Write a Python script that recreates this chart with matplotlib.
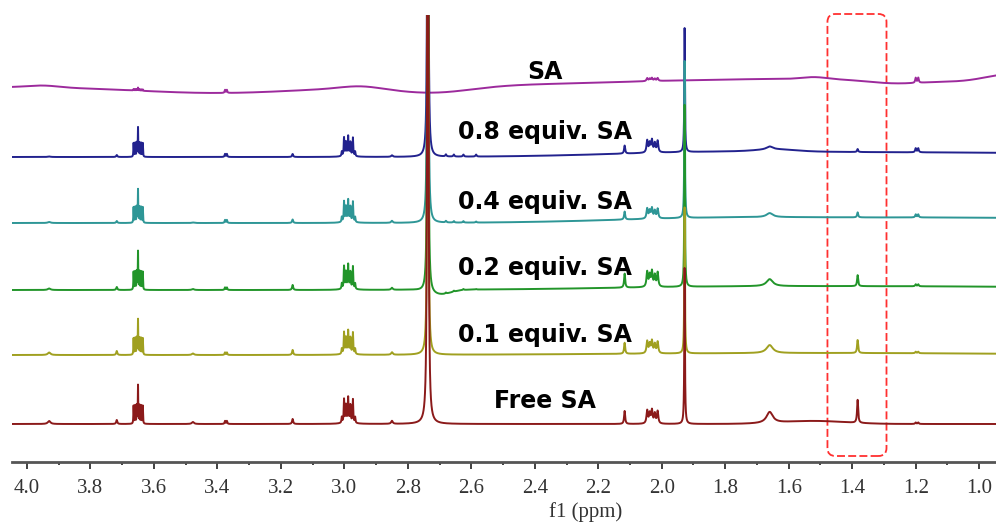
import numpy as np
import matplotlib.pyplot as plt
from matplotlib.patches import FancyBboxPatch

plt.rcParams['font.family'] = 'Liberation Serif'

# spectra, bottom to top
labels = ["Free SA", "0.1 equiv. SA", "0.2 equiv. SA", "0.4 equiv. SA", "0.8 equiv. SA", "SA"]
colors = ["#8b1a1a", "#a0a020", "#22952a", "#2e9696", "#22228e", "#9c2a9c"]
offsets = [38, 107, 172, 239, 305, 375]
label_y = [54, 120, 187, 253, 323, 383]

# single lines: shift (ppm), half width (ppm)
peak_ppm = [3.93, 3.717, 3.477, 3.376, 3.370, 3.163, 2.85, 2.737, 2.68, 2.655,
            2.625, 2.585, 2.117, 1.928, 1.66, 1.383, 1.200, 1.192]
peak_hwhm = [0.005, 0.002, 0.004, 0.0015, 0.0015, 0.002, 0.003, 0.001, 0.002, 0.002,
             0.002, 0.002, 0.002, 0.0012, 0.012, 0.002, 0.002, 0.002]
# line heights for each spectrum (same order as labels)
peak_heights = [
    [3, 4, 2, 3, 3, 5, 3, 2500, 0, 0, 0, 0, 13, 156, 11, 23, 1.5, 1.5],
    [2.5, 4, 1.5, 2.5, 2.5, 5, 2.5, 1500, 0, 0, 0, 0, 11, 146, 8, 13, 1.5, 1.5],
    [1.5, 3, 1, 2.5, 2.5, 5, 2, 1500, 1, 1, 1, 0.5, 14, 182, 7, 11, 2, 2],
    [1, 2, 0.5, 3, 3, 3.5, 2, 1500, 1.5, 1.5, 1.5, 1, 8, 157, 4, 5, 3, 3],
    [0.5, 2, 0, 3, 3, 3, 1.5, 1500, 2, 2, 2, 2, 8, 124, 3, 3, 4, 4],
    [0, 0, 0, 3, 3, 0, 0, 0, 0, 0, 0, 0, 0, 0, 0, 0, 5, 5],
]

# multiplets: shifts, relative heights, half widths
m1_ppm = [3.664, 3.659, 3.654, 3.650, 3.645, 3.640, 3.635]
m1_rel = [0.47, 0.47, 0.47, 1.0, 0.47, 0.47, 0.47]
m1_hwhm = [0.0008] * 7
m1_amp = [38, 35, 38, 33, 29, 3]

m2_ppm = [3.008, 3.001, 2.995, 2.988, 2.981, 2.973, 2.966, 2.988]
m2_rel = [0.25, 1.0, 0.7, 1.0, 0.7, 1.0, 0.25, 0.15]
m2_hwhm = [0.0012] * 7 + [0.012]
m2_amp = [23, 21, 22, 20, 18, 0]

m3_ppm = [2.046, 2.038, 2.031, 2.022, 2.013]
m3_rel = [1.0, 0.75, 1.0, 0.75, 0.95]
m3_hwhm = [0.0025] * 5
m3_amp = [13, 12, 15, 10, 12, 3]

# slow baseline drift: (centre ppm, amplitude, sigma ppm)
drift_free = [(1.52, 3, 0.1)]
drift_01 = [(1.5, 2, 0.6)]
drift_02 = [(1.8, 3, 0.4), (1.0, 3, 0.45), (2.70, -5, 0.035)]
drift_04 = [(1.8, 5, 0.35), (1.0, 5, 0.4)]
drift_08 = [(1.8, 5, 0.35), (1.0, 4, 0.4), (1.64, 2, 0.06)]
drift_sa = [(1.6, 8, 0.55), (1.52, 2, 0.04), (1.27, -3, 0.08), (0.9, 9, 0.08),
            (3.95, 2, 0.05), (3.4, -6, 0.25), (2.95, 2.5, 0.06), (2.72, -6.5, 0.12)]
drifts = [drift_free, drift_01, drift_02, drift_04, drift_08, drift_sa]

ppm = np.linspace(4.047, 0.947, 40000)


def lorentz(x, x0, h, g):
    return h * g**2 / ((x - x0)**2 + g**2)


def spectrum(i):
    y = np.full_like(ppm, offsets[i], dtype=float)
    for c, a, s in drifts[i]:
        y += a * np.exp(-0.5 * ((ppm - c) / s)**2)
    for x0, g, h in zip(peak_ppm, peak_hwhm, peak_heights[i]):
        if h:
            y += lorentz(ppm, x0, h, g)
    for shifts, rel, widths, amp in ((m1_ppm, m1_rel, m1_hwhm, m1_amp),
                                     (m2_ppm, m2_rel, m2_hwhm, m2_amp),
                                     (m3_ppm, m3_rel, m3_hwhm, m3_amp)):
        for x0, r, g in zip(shifts, rel, widths):
            if amp[i]:
                y += lorentz(ppm, x0, r * amp[i], g)
    return y


fig = plt.figure(figsize=(9.96, 5.25), dpi=100)
ax = fig.add_axes([12 / 996, 63 / 525, 984 / 996, 447 / 525])

# top spectrum first so the lower ones sit on top
for i in reversed(range(len(labels))):
    ax.plot(ppm, spectrum(i), color=colors[i], lw=1.4)
    ax.text(2.369, label_y[i], labels[i], ha='center', va='baseline',
            fontsize=17, fontweight='bold', family='DejaVu Sans', color='black')

# highlighted region around 1.38 ppm
box = FancyBboxPatch((1.292, 6), 0.186, 442,
                     boxstyle="round,pad=0,rounding_size=0.025",
                     mutation_aspect=317.6, fill=False, edgecolor='#ff3030',
                     lw=1.3, linestyle=(0, (4.4, 1.8)), clip_on=False)
ax.add_patch(box)

ax.set_xlim(4.047, 0.947)
ax.set_ylim(0, 447)
ax.set_xticks(np.arange(1.0, 4.01, 0.2))
ax.set_xticklabels([f"{v:.1f}" for v in np.arange(1.0, 4.01, 0.2)])
ax.set_xticks(np.arange(1.1, 4.0, 0.2), minor=True)
ax.set_yticks([])
for s in ('top', 'left', 'right'):
    ax.spines[s].set_visible(False)
ax.spines['bottom'].set_linewidth(2)
ax.spines['bottom'].set_color('#555555')
ax.tick_params(axis='x', which='major', direction='out', length=5, width=1.3,
               color='#333333', labelsize=15, labelcolor='#333333', pad=7)
ax.tick_params(axis='x', which='minor', direction='out', length=2, width=1.3,
               color='#333333')
ax.set_xlabel("f1 (ppm)", fontsize=15, color='#333333')
ax.xaxis.set_label_coords(0.583, -0.09)

fig.savefig("out.png", dpi=100)
